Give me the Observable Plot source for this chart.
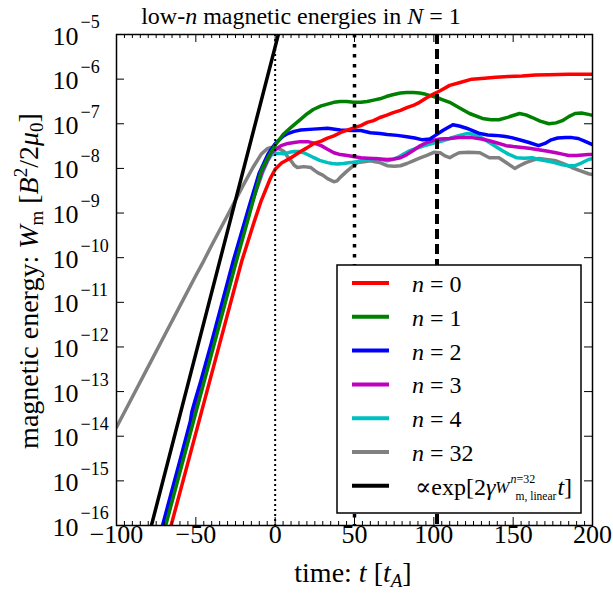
<!DOCTYPE html>
<html><head><meta charset="utf-8">
<script src="https://cdn.jsdelivr.net/npm/d3@7"></script>
<script src="https://cdn.jsdelivr.net/npm/@observablehq/plot@0.6"></script>
<style>body{margin:0;background:#fff} svg{display:block}</style>
</head><body><div id="chart"></div>
<script>
const FONT = "'Liberation Serif','DejaVu Serif','Times New Roman',serif";

// ---- data: [time t (t_A), log10 of W_m] ----
const n0 = [[-68,-16.3],[-65.6,-16],[-50,-13.93],[-35,-11.93],[-21,-10.07],[-13,-9.17],[-8.75,-8.72],[-3,-8.22],[0,-8.02],[4,-7.88],[10,-7.76],[16,-7.62],[20,-7.54],[24.4,-7.44],[29,-7.39],[33,-7.32],[37,-7.27],[41,-7.2],[45,-7.15],[49.5,-7.09],[54,-7.04],[58,-6.97],[62,-6.93],[66,-6.86],[70,-6.81],[74.4,-6.75],[79,-6.7],[83,-6.64],[87,-6.59],[91,-6.52],[95,-6.43],[99.4,-6.34],[104,-6.26],[110,-6.14],[116,-6.08],[124,-6.0],[132,-5.98],[139,-5.96],[147,-5.94],[155.6,-5.93],[164,-5.91],[172.5,-5.9],[185,-5.89],[200,-5.89]];
const n1 = [[-71.5,-16.3],[-69,-16],[-50,-13.47],[-35,-11.48],[-24.4,-10.07],[-16,-9.0],[-8.75,-8.05],[-4,-7.72],[0,-7.48],[5,-7.24],[10,-7.08],[16,-6.9],[20,-6.78],[24,-6.68],[29,-6.6],[33,-6.56],[37,-6.52],[41,-6.5],[45,-6.5],[49.5,-6.52],[54,-6.52],[58,-6.5],[62,-6.47],[66,-6.44],[70,-6.39],[74,-6.35],[79,-6.31],[83,-6.3],[87,-6.3],[91,-6.31],[95,-6.34],[99,-6.38],[104,-6.44],[110,-6.52],[116,-6.64],[122.5,-6.77],[130.6,-6.88],[136,-6.91],[141,-6.91],[147,-6.85],[154,-6.77],[158,-6.8],[162,-6.86],[167,-6.94],[172.5,-7.0],[177,-6.98],[181,-6.93],[185,-6.84],[189,-6.77],[193,-6.76],[197.5,-6.79],[200,-6.81]];
const n2 = [[-73.5,-16.3],[-71,-16],[-60,-14.54],[-53.5,-13.67],[-52.5,-13.45],[-50.5,-13.2],[-47,-12.78],[-40.5,-11.95],[-26.4,-10.07],[-16,-8.8],[-10,-8.1],[-4.4,-7.67],[0,-7.45],[2,-7.38],[5,-7.28],[8,-7.22],[12,-7.17],[16,-7.14],[24,-7.12],[33,-7.1],[41,-7.14],[48,-7.15],[54,-7.15],[60,-7.2],[66,-7.22],[70.6,-7.24],[77,-7.26],[83,-7.29],[88,-7.32],[93,-7.36],[97.5,-7.34],[101,-7.26],[105.6,-7.15],[112,-7.02],[116,-7.05],[120.6,-7.1],[129,-7.22],[134,-7.25],[139,-7.26],[144,-7.28],[149,-7.31],[155,-7.37],[160,-7.42],[166,-7.49],[170,-7.44],[174,-7.36],[178,-7.32],[183,-7.31],[187,-7.31],[191,-7.33],[195,-7.39],[200,-7.47]];
const n3 = [[-72.5,-16.3],[-70,-16],[-50,-13.35],[-25,-10.05],[-15,-8.8],[-8,-8.05],[-2.5,-7.65],[3.75,-7.49],[8,-7.44],[12,-7.42],[16,-7.4],[20.6,-7.4],[25,-7.44],[29,-7.49],[33,-7.57],[37,-7.65],[41,-7.69],[45.6,-7.71],[50,-7.74],[54,-7.76],[58,-7.77],[62,-7.78],[66,-7.79],[70.6,-7.8],[75,-7.79],[79,-7.76],[83,-7.69],[87,-7.6],[91,-7.5],[95.6,-7.42],[100,-7.37],[104,-7.34],[110,-7.33],[116,-7.31],[124,-7.31],[130,-7.34],[135,-7.38],[140,-7.43],[145.6,-7.49],[150,-7.51],[155.6,-7.53],[160,-7.55],[166,-7.58],[171,-7.61],[177,-7.65],[181,-7.68],[185,-7.71],[190,-7.71],[197.5,-7.69],[200,-7.69]];
const n4 = [[-72,-16.3],[-69.5,-16],[-50,-13.4],[-24.8,-10.05],[-15,-8.8],[-8,-8.1],[-5,-7.85],[-2.5,-7.7],[1,-7.66],[5.6,-7.67],[9,-7.64],[12,-7.62],[15,-7.62],[18,-7.65],[21,-7.7],[24.4,-7.76],[28,-7.82],[33,-7.87],[36,-7.89],[39,-7.9],[43,-7.89],[47.5,-7.87],[51,-7.85],[54,-7.83],[59,-7.8],[64,-7.78],[67,-7.8],[70.6,-7.83],[74,-7.8],[77,-7.76],[81,-7.68],[85,-7.6],[88,-7.56],[91,-7.53],[95,-7.48],[99.4,-7.44],[104,-7.4],[110,-7.33],[115,-7.27],[120.6,-7.22],[124,-7.23],[127,-7.26],[131,-7.33],[135,-7.42],[139,-7.51],[143,-7.6],[147,-7.68],[152,-7.76],[157,-7.77],[162,-7.76],[166,-7.8],[170.6,-7.83],[176,-7.87],[181,-7.92],[185,-7.94],[189,-7.94],[193,-7.88],[197.5,-7.8],[200,-7.78]];
const n32 = [[-100,-13.8],[-90,-13.12],[-80,-12.44],[-70,-11.76],[-60,-11.08],[-50,-10.4],[-45,-10.07],[-40,-9.72],[-30,-9.05],[-20,-8.37],[-14,-7.98],[-8.75,-7.68],[-5,-7.56],[-2.5,-7.53],[1,-7.54],[3.5,-7.58],[5.6,-7.62],[8,-7.75],[10,-7.83],[12,-7.93],[14,-7.98],[18,-7.96],[22.5,-7.98],[25,-8.05],[27,-8.1],[30,-8.15],[33,-8.23],[37,-8.3],[39,-8.28],[41,-8.2],[45.6,-8.05],[49,-7.95],[52,-7.87],[56,-7.85],[60,-7.83],[63,-7.85],[66,-7.87],[70.6,-7.94],[75,-7.95],[79,-7.94],[83,-7.89],[87,-7.83],[91,-7.77],[95.6,-7.71],[100,-7.64],[104,-7.65],[107,-7.72],[110,-7.76],[113,-7.7],[116,-7.65],[122,-7.64],[129,-7.65],[135,-7.76],[141,-7.76],[146,-7.88],[151,-8.0],[154,-7.94],[158,-7.87],[162,-7.82],[166,-7.78],[171,-7.8],[177,-7.83],[182,-7.9],[187,-7.98],[192,-8.05],[197.5,-8.12],[200,-8.14]];
const expFit = [[-80,-16.275],[4,-4.725]];

const seriesNames = ["0","1","2","3","4","32"];
const seriesColors = ["#ff0000","#008000","#0000ff","#bf00bf","#00bfbf","#808080"];
const seriesData = [n0,n1,n2,n3,n4,n32];
const markerTimes = [0, 50, 102];

const xMajor = [-100,-50,0,50,100,150,200];
const xMinor = d3.range(-100, 201, 5).filter(v => v % 50 !== 0);
const yExponents = [-16,-15,-14,-13,-12,-11,-10,-9,-8,-7,-6,-5];

const toRows = arr => arr.map(([t, lw]) => ({t, W: Math.pow(10, lw)}));

const W = 613, H = 594, mL = 116, mR = 21, mT = 34, mB = 69;
const fw = W - mL - mR, fh = H - mT - mB;

const drawOrder = [5,4,3,2,1,0];
const lineMarks = drawOrder.map(i => Plot.line(toRows(seriesData[i]), {x:"t", y:"W", stroke: seriesColors[i], strokeWidth: 3.5, clip: true}));

const plot = Plot.plot({
  width: W, height: H,
  marginLeft: mL, marginRight: mR, marginTop: mT, marginBottom: mB,
  style: {fontFamily: FONT, fontSize: "26px", background: "white", color: "black", overflow: "visible"},
  x: {domain: [-100, 200], axis: null},
  y: {type: "log", domain: [1e-16, 1e-5], axis: null},
  marks: [
    ...lineMarks,
    Plot.line(toRows(expFit), {x:"t", y:"W", stroke:"black", strokeWidth:3.5, clip:true}),
    Plot.ruleX([markerTimes[0]], {x: d=>d, stroke:"black", strokeWidth:2, strokeDasharray:"2,3"}),
    Plot.ruleX([markerTimes[1]], {x: d=>d, stroke:"black", strokeWidth:3.5, strokeDasharray:"3.5,6.5"}),
    Plot.ruleX([markerTimes[2]], {x: d=>d, stroke:"black", strokeWidth:4, strokeDasharray:"10,5"}),
    // inward ticks
    Plot.ruleX(xMajor, {x: d=>d, insetTop: fh-8, stroke:"black", strokeWidth:1}),
    Plot.ruleX(xMajor, {x: d=>d, insetBottom: fh-8, stroke:"black", strokeWidth:1}),
    Plot.ruleX(xMinor, {x: d=>d, insetTop: fh-4, stroke:"black", strokeWidth:1}),
    Plot.ruleX(xMinor, {x: d=>d, insetBottom: fh-4, stroke:"black", strokeWidth:1}),
    Plot.ruleY(yExponents, {y: e=>Math.pow(10,e), insetRight: fw-8, stroke:"black", strokeWidth:1}),
    Plot.ruleY(yExponents, {y: e=>Math.pow(10,e), insetLeft: fw-8, stroke:"black", strokeWidth:1}),
    Plot.frame({stroke:"black", strokeWidth:1.5}),
    // tick labels
    Plot.text(xMajor, {x: d=>d, text: d => d < 0 ? "\u2212" + (-d) : String(d), frameAnchor:"bottom", dy: 17.5, fontSize: 26, fill:"black"}),
    Plot.text(yExponents, {y: e=>Math.pow(10,e), text: () => "10", frameAnchor:"left", dx: -38, textAnchor:"end", dy: 1.7, fontSize: 26, fill:"black"}),
    Plot.text(yExponents, {y: e=>Math.pow(10,e), text: e => "\u2212" + (-e), frameAnchor:"left", dx: -36, textAnchor:"start", dy: -11.8, fontSize: 18, fill:"black"})
  ]
});
document.getElementById("chart").appendChild(plot);

const svg = d3.select(plot);
const add = svg.append("g").attr("font-family", FONT).attr("fill", "black");

// title
const title = add.append("text").attr("x", 301).attr("y", 24).attr("text-anchor","middle").attr("font-size", 24);
title.append("tspan").text("low-");
title.append("tspan").attr("font-style","italic").text("n");
title.append("tspan").text(" magnetic energies in ");
title.append("tspan").attr("font-style","italic").text("N");
title.append("tspan").text(" = 1");

// x label
const xl = add.append("text").attr("x", 353).attr("y", 582).attr("text-anchor","middle").attr("font-size", 28);
xl.append("tspan").text("time: ");
xl.append("tspan").attr("font-style","italic").text("t");
xl.append("tspan").text(" [");
xl.append("tspan").attr("font-style","italic").text("t");
xl.append("tspan").attr("font-style","italic").attr("font-size",19).attr("dy",5).text("A");
xl.append("tspan").attr("dy",-5).text("]");

// y label
const yl = add.append("text").attr("transform","translate(38,281) rotate(-90)").attr("text-anchor","middle").attr("font-size", 28);
yl.append("tspan").text("magnetic energy: ");
yl.append("tspan").attr("font-style","italic").text("W");
yl.append("tspan").attr("font-size",19).attr("dy",5).text("m");
yl.append("tspan").attr("dy",-5).text(" [");
yl.append("tspan").attr("font-style","italic").text("B");
yl.append("tspan").attr("font-size",19).attr("dy",-11).text("2");
yl.append("tspan").attr("dy",11).text("/2");
yl.append("tspan").attr("font-style","italic").text("\u03bc");
yl.append("tspan").attr("font-size",19).attr("dy",5).text("0");
yl.append("tspan").attr("dy",-5).text("]");

// legend
const lg = add.append("g").attr("text-anchor","start");
lg.append("rect").attr("x",337).attr("y",265).attr("width",244).attr("height",248).attr("fill","white").attr("stroke","black").attr("stroke-width",1.5);
const rowY = i => 283 + i * 33.8;
seriesNames.forEach((nm, i) => {
  lg.append("line").attr("x1",352).attr("x2",389).attr("y1",rowY(i)).attr("y2",rowY(i)).attr("stroke",seriesColors[i]).attr("stroke-width",4);
  const t = lg.append("text").attr("x",412).attr("y",rowY(i)+9).attr("font-size",24).attr("text-anchor","start");
  t.append("tspan").attr("font-style","italic").text("n");
  t.append("tspan").text(" = " + nm);
});
const ry = rowY(6);
lg.append("line").attr("x1",352).attr("x2",389).attr("y1",ry).attr("y2",ry).attr("stroke","black").attr("stroke-width",4);
const t1 = lg.append("text").attr("x",415).attr("y",ry+9).attr("font-size",24).attr("text-anchor","start");
t1.append("tspan").text("\u221dexp[2");
t1.append("tspan").attr("font-style","italic").text("\u03b3");
t1.append("tspan").attr("font-style","italic").attr("font-size",17).attr("dy",-2).text("W");
const w1 = t1.node().getComputedTextLength();
const xs = 415 + w1 + 1;
const sup = lg.append("text").attr("x",xs).attr("y",ry-3).attr("font-size",12).attr("text-anchor","start");
sup.append("tspan").attr("font-style","italic").text("n");
sup.append("tspan").text("=32");
const sub = lg.append("text").attr("x",xs+5).attr("y",ry+14).attr("font-size",11.5).attr("text-anchor","start").text("m, linear");
const wsub = Math.max(sup.node().getComputedTextLength(), 5 + sub.node().getComputedTextLength());
const t2 = lg.append("text").attr("x", xs + wsub + 1).attr("y", ry+9).attr("font-size",24).attr("text-anchor","start");
t2.append("tspan").attr("font-style","italic").text("t");
t2.append("tspan").text("]");
</script>
</body></html>
